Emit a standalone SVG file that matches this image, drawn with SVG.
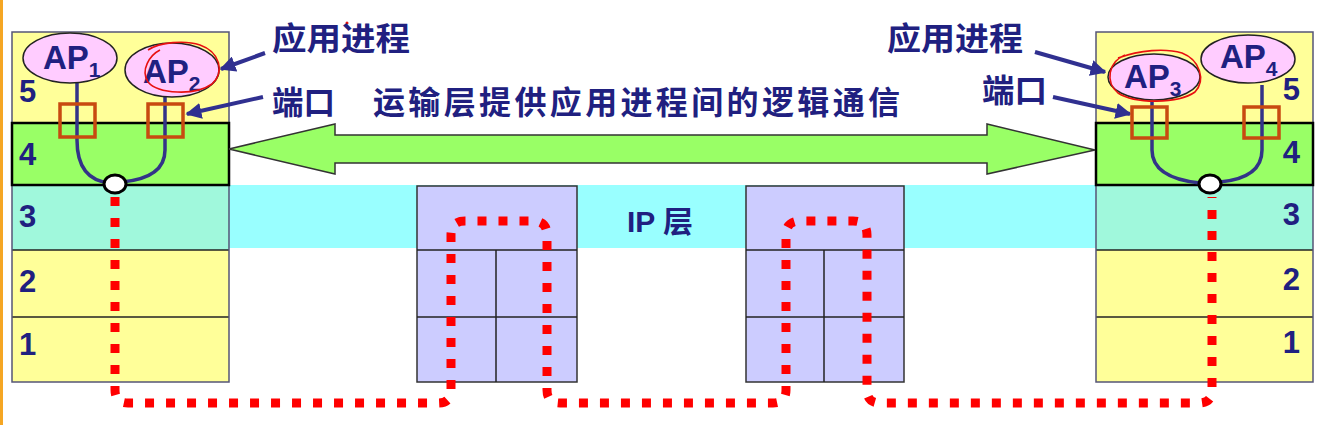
<svg xmlns="http://www.w3.org/2000/svg" width="1322" height="425" viewBox="0 0 1322 425">
<defs>
<style>
.cjk{font-family:"Liberation Sans","Noto Sans CJK SC",sans-serif;font-weight:bold;fill:#202080;}
.num{font-family:"Liberation Sans",Arial,sans-serif;font-weight:bold;fill:#202080;font-size:31px;}
.ap{font-family:"Liberation Sans",Arial,sans-serif;font-weight:bold;fill:#202080;font-size:33px;}
.sub{font-size:21px;}
.y{fill:#FFFF99;}
.l4{fill:#99FF66;stroke:#000;stroke-width:2.5;}
.l3{fill:#A0F8DC;}
.sep{stroke:#222;stroke-width:1.5;}
.frame{fill:none;stroke:#555577;stroke-width:1.5;}
.ell{fill:#FFCCFF;stroke:#222;stroke-width:1.5;}
.port{fill:none;stroke:#C84A10;stroke-width:3.5;}
.wire{fill:none;stroke:#333388;stroke-width:3.5;}
.sock{fill:#fff;stroke:#000;stroke-width:3;}
.rt{fill:#CCCCFF;stroke:#333;stroke-width:1.5;}
.ptr{stroke:#303090;stroke-width:4;fill:none;marker-end:url(#ah);}
.red{fill:none;stroke:#FF0000;stroke-width:9;stroke-dasharray:9 12;}
.scr{fill:none;stroke:#E81010;stroke-width:1.6;}
</style>
<marker id="ah" viewBox="0 0 10 10" refX="9" refY="5" markerWidth="4" markerHeight="4" orient="auto" markerUnits="strokeWidth">
<path d="M0,0 L10,5 L0,10 z" fill="#303090"/>
</marker>
</defs>
<rect width="1322" height="425" fill="#fff"/>
<line x1="1.5" y1="0" x2="1.5" y2="425" stroke="#F5A623" stroke-width="3"/>

<g id="ip-band"><rect x="229" y="185" width="867" height="63" fill="#99FFFF"/>
<text class="cjk" x="660" y="232" font-size="30" text-anchor="middle">IP 层</text></g>

<g id="left-stack">
<rect class="y" x="12" y="32" width="217" height="91"/>
<rect class="l3" x="12" y="185" width="217" height="65"/>
<rect class="y" x="12" y="250" width="217" height="132"/>
<line class="sep" x1="12" y1="250" x2="229" y2="250"/>
<line class="sep" x1="12" y1="317" x2="229" y2="317"/>
<rect class="frame" x="12" y="32" width="217" height="350"/>
<rect class="l4" x="12" y="123" width="217" height="62"/>
<text class="num" x="19" y="102">5</text>
<text class="num" x="19" y="165">4</text>
<text class="num" x="19" y="227">3</text>
<text class="num" x="19" y="292">2</text>
<text class="num" x="19" y="355">1</text>
</g>

<g id="right-stack">
<rect class="y" x="1096" y="32" width="217" height="91"/>
<rect class="l3" x="1096" y="185" width="217" height="65"/>
<rect class="y" x="1096" y="250" width="217" height="132"/>
<line class="sep" x1="1096" y1="250" x2="1313" y2="250"/>
<line class="sep" x1="1096" y1="317" x2="1313" y2="317"/>
<rect class="frame" x="1096" y="32" width="217" height="350"/>
<rect class="l4" x="1096" y="123" width="217" height="62"/>
<text class="num" x="1300" y="100" text-anchor="end">5</text>
<text class="num" x="1300" y="163" text-anchor="end">4</text>
<text class="num" x="1300" y="225" text-anchor="end">3</text>
<text class="num" x="1300" y="290" text-anchor="end">2</text>
<text class="num" x="1300" y="353" text-anchor="end">1</text>
</g>

<g id="router1">
<rect class="rt" x="417" y="186" width="160" height="196"/>
<line class="sep" x1="417" y1="250" x2="577" y2="250"/>
<line class="sep" x1="417" y1="317" x2="577" y2="317"/>
<line class="sep" x1="496" y1="250" x2="496" y2="382"/>
</g>
<g id="router2">
<rect class="rt" x="746" y="186" width="158" height="196"/>
<line class="sep" x1="746" y1="250" x2="904" y2="250"/>
<line class="sep" x1="746" y1="317" x2="904" y2="317"/>
<line class="sep" x1="824" y1="250" x2="824" y2="382"/>
</g>

<g id="logic-arrow">
<path d="M229,149 L335,124 L335,135 L987,135 L987,124 L1095,150 L987,174 L987,163 L335,163 L335,174 Z" fill="#99FF66" stroke="#333" stroke-width="1.5" stroke-linejoin="miter"/>
</g>

<g id="connectors">
<path class="wire" d="M77,82 V140 Q77,180 110,183"/>
<path class="wire" d="M165,96 V150 Q165,178 122,182"/>
<path class="wire" d="M1152,101 V150 Q1152,178 1200,183"/>
<path class="wire" d="M1262,85 V150 Q1262,178 1220,182"/>
<path class="red" d="M115,197 V390 Q115,403 128,403 H438 Q451,403 451,390 V235 Q451,221 465,221 H533 Q547,221 547,235 V390 Q547,403 560,403 H773 Q786,403 786,390 V235 Q786,221 800,221 H853 Q867,221 867,235 V390 Q867,403 880,403 H1199 Q1212,403 1212,390 V197"/>
<line class="ptr" x1="265" y1="53" x2="221" y2="69"/>
<line class="ptr" x1="263" y1="97" x2="187" y2="114"/>
<line class="ptr" x1="1035" y1="52" x2="1105" y2="72"/>
<line class="ptr" x1="1053" y1="97" x2="1130" y2="114"/>
</g>

<g id="ports">
<rect class="port" x="60" y="104" width="35" height="33"/>
<rect class="port" x="148" y="104" width="35" height="33"/>
<rect class="port" x="1132" y="107" width="35" height="31"/>
<rect class="port" x="1244" y="107" width="35" height="31"/>
</g>

<g id="sockets">
<ellipse class="sock" cx="115" cy="184" rx="11" ry="9"/>
<ellipse class="sock" cx="1210" cy="184" rx="11" ry="9"/>
</g>

<g id="ap1"><ellipse class="ell" cx="70" cy="58" rx="47" ry="25"/>
<text class="ap" x="43" y="69">AP<tspan class="sub" dy="8">1</tspan></text></g>
<g id="ap2"><ellipse class="ell" cx="172" cy="70" rx="47" ry="27"/>
<text class="ap" x="143" y="83">AP<tspan class="sub" dy="8">2</tspan></text></g>
<g id="ap3"><ellipse class="ell" cx="1154" cy="77" rx="46" ry="23"/>
<text class="ap" x="1124" y="88">AP<tspan class="sub" dy="8">3</tspan></text></g>
<g id="ap4"><ellipse class="ell" cx="1248" cy="59" rx="47" ry="24"/>
<text class="ap" x="1220" y="68">AP<tspan class="sub" dy="8">4</tspan></text></g>

<g id="scribbles">
<path class="scr" d="M160,50 C150,55 140,70 148,82 C158,94 195,96 212,84 C225,72 220,52 200,45 C185,40 160,42 148,50"/>
<path class="scr" d="M1125,55 C1108,62 1105,82 1118,93 C1135,104 1178,104 1195,92 C1206,80 1200,60 1182,53 C1165,48 1140,50 1118,58"/>
<circle cx="347" cy="23" r="1.5" fill="#E81010"/>
</g>

<g id="labels">
<text class="cjk" x="272" y="50" font-size="32" textLength="138" lengthAdjust="spacingAndGlyphs">应用进程</text>
<text class="cjk" x="272" y="114" font-size="32" textLength="63" lengthAdjust="spacingAndGlyphs">端口</text>
<text class="cjk" x="373" y="114" font-size="32" textLength="527" lengthAdjust="spacing">运输层提供应用进程间的逻辑通信</text>
<text class="cjk" x="887" y="50" font-size="32" textLength="136" lengthAdjust="spacingAndGlyphs">应用进程</text>
<text class="cjk" x="982" y="102" font-size="32" textLength="65" lengthAdjust="spacingAndGlyphs">端口</text>
</g>
</svg>
